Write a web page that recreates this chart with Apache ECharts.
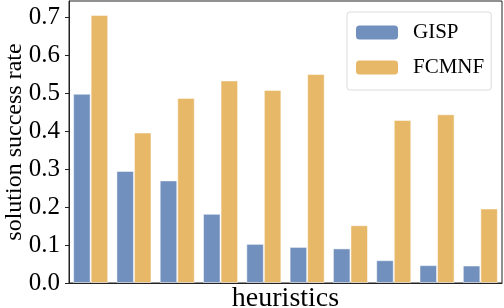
<!DOCTYPE html>
<html>
<head>
<meta charset="utf-8">
<script src="https://cdn.jsdelivr.net/npm/echarts@6/dist/echarts.min.js"></script>
<style>
html,body{margin:0;padding:0;background:#fff;}
#chart{width:504px;height:308px;}
</style>
</head>
<body>
<div id="chart"></div>
<script>
const categories = ['h1','h2','h3','h4','h5','h6','h7','h8','h9','h10'];
const gispValues = [0.498, 0.295, 0.270, 0.182, 0.103, 0.095, 0.091, 0.060, 0.047, 0.046];
const fcmnfValues = [0.705, 0.396, 0.487, 0.533, 0.508, 0.550, 0.152, 0.429, 0.444, 0.196];
const seriesNames = ['GISP', 'FCMNF'];
const yTicks = [0.0, 0.1, 0.2, 0.3, 0.4, 0.5, 0.6, 0.7];

const FONT = '"Liberation Serif", "Times New Roman", serif';
const chart = echarts.init(document.getElementById('chart'), null, {renderer: 'canvas'});
chart.setOption({
  animation: false,
  backgroundColor: '#fff',
  grid: {left: 69, right: 2, top: 1, bottom: 25, show: true, borderColor: '#222', borderWidth: 1,
         containLabel: false, outerBoundsMode: 'none'},
  legend: {
    data: seriesNames,
    orient: 'vertical',
    left: 347, top: 12,
    padding: [10, 7, 12, 9],
    itemWidth: 42, itemHeight: 14, itemGap: 14,
    borderColor: '#dcdcdc', borderWidth: 1, borderRadius: 3,
    backgroundColor: 'rgba(255,255,255,0.85)',
    textStyle: {fontFamily: FONT, fontSize: 21, color: '#000', lineHeight: 14, padding: [0,0,0,10]},
    itemStyle: {borderWidth: 0}
  },
  xAxis: {
    type: 'category', data: categories,
    name: 'heuristics', nameLocation: 'middle', nameGap: 2, nameMoveOverlap: false,
    nameTextStyle: {fontFamily: FONT, fontSize: 28, color: '#000'},
    axisLine: {show: true, lineStyle: {color: '#222', width: 1}},
    axisTick: {show: false}, axisLabel: {show: false},
    splitLine: {show: false}
  },
  yAxis: {
    type: 'value', min: 0, max: 0.742, interval: 0.1,
    name: 'solution success rate', nameLocation: 'middle', nameGap: 42, nameMoveOverlap: false,
    nameTextStyle: {fontFamily: FONT, fontSize: 24, color: '#000', verticalAlign: 'bottom'},
    axisLine: {show: true, lineStyle: {color: '#222', width: 1}},
    axisTick: {show: true, length: 4, lineStyle: {color: '#222'}},
    axisLabel: {
      fontFamily: FONT, fontSize: 25, color: '#000', margin: 9, showMaxLabel: false,
      formatter: function (v) {
        for (const t of yTicks) { if (Math.abs(v - t) < 1e-6) return t.toFixed(1); }
        return '';
      }
    },
    splitLine: {show: false}
  },
  series: [
    {name: seriesNames[0], type: 'bar', data: gispValues, barGap: '0%', barCategoryGap: '19%',
     itemStyle: {color: '#7290bd', borderColor: 'rgba(255,255,255,0.5)', borderWidth: 1}},
    {name: seriesNames[1], type: 'bar', data: fcmnfValues, barGap: '0%', barCategoryGap: '19%',
     itemStyle: {color: '#e8b869', borderColor: 'rgba(255,255,255,0.5)', borderWidth: 1}}
  ]
});
</script>
</body>
</html>
